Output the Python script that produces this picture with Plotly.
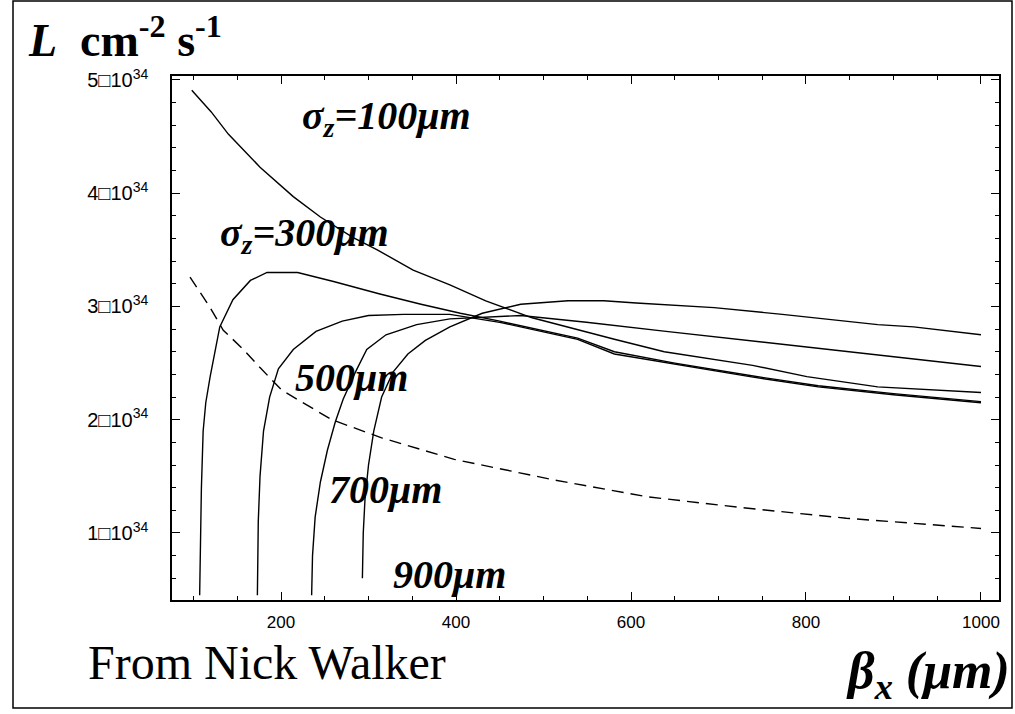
import plotly.graph_objects as go

# ---- data (luminosity in units of 1e34 cm^-2 s^-1, beta in micrometres) ----
t_x = [98, 120, 140, 160, 176, 214, 245, 282, 310, 351, 393, 434, 487, 581, 638, 739, 801, 882, 1000]
t_y = [4.91, 4.72, 4.52, 4.36, 4.23, 3.97, 3.79, 3.61, 3.50, 3.32, 3.19, 3.05, 2.90, 2.71, 2.60, 2.48, 2.38, 2.29, 2.24]

v1_x = [107, 108, 109, 111, 114, 119, 130, 145, 165, 184, 219, 260, 313, 360, 405, 450, 539, 581, 650, 736, 814, 900, 1000]
v1_y = [0.45, 1.0, 1.4, 1.9, 2.15, 2.38, 2.82, 3.06, 3.23, 3.30, 3.30, 3.22, 3.11, 3.02, 2.94, 2.87, 2.72, 2.60, 2.50, 2.39, 2.30, 2.23, 2.16]

v2_x = [173, 174, 176, 180, 187, 197, 214, 240, 270, 300, 340, 393, 450, 539, 581, 650, 736, 814, 900, 1000]
v2_y = [0.45, 1.1, 1.5, 1.9, 2.2, 2.45, 2.62, 2.78, 2.87, 2.92, 2.93, 2.93, 2.86, 2.71, 2.58, 2.49, 2.38, 2.29, 2.22, 2.15]

v3_x = [235, 236, 239, 245, 253, 262, 271, 285, 298, 320, 355, 393, 474, 549, 640, 720, 800, 882, 1000]
v3_y = [0.45, 0.8, 1.14, 1.45, 1.73, 1.98, 2.18, 2.42, 2.62, 2.75, 2.84, 2.89, 2.92, 2.86, 2.78, 2.71, 2.64, 2.57, 2.47]

v4_x = [293, 294, 296, 300, 306, 315, 328, 345, 365, 393, 430, 474, 528, 569, 606, 695, 773, 882, 923, 1000]
v4_y = [0.60, 1.0, 1.3, 1.6, 1.9, 2.2, 2.42, 2.58, 2.70, 2.82, 2.94, 3.02, 3.05, 3.05, 3.03, 2.99, 2.93, 2.84, 2.82, 2.75]

d_x = [96, 119, 134, 157, 176, 201, 258, 315, 398, 511, 618, 731, 846, 1000]
d_y = [3.26, 2.99, 2.79, 2.62, 2.46, 2.26, 2.00, 1.84, 1.65, 1.47, 1.32, 1.22, 1.13, 1.04]

y_tickvals = [1, 2, 3, 4, 5]
y_ticktext = ["1\u25a110<sup>34</sup>", "2\u25a110<sup>34</sup>", "3\u25a110<sup>34</sup>",
              "4\u25a110<sup>34</sup>", "5\u25a110<sup>34</sup>"]
x_tickvals = [200, 400, 600, 800, 1000]

labels = ["\u03c3<sub>z</sub>=100\u03bcm", "\u03c3<sub>z</sub>=300\u03bcm", "500\u03bcm", "700\u03bcm", "900\u03bcm"]
label_x = [320, 227, 281, 319, 392]
label_y = [4.66, 3.63, 2.37, 1.38, 0.63]

fig = go.Figure()
line = dict(color="black", width=1.4)
for xs, ys in [(t_x, t_y), (v1_x, v1_y), (v2_x, v2_y), (v3_x, v3_y), (v4_x, v4_y)]:
    fig.add_trace(go.Scatter(x=xs, y=ys, mode="lines", line=line, showlegend=False, hoverinfo="skip"))
fig.add_trace(go.Scatter(x=d_x, y=d_y, mode="lines", line=dict(color="black", width=1.4, dash="12px,7px"),
                         showlegend=False, hoverinfo="skip"))

for txt, lx, ly in zip(labels, label_x, label_y):
    fig.add_annotation(x=lx, y=ly, xref="x", yref="y", text="<b><i>" + txt + "</i></b>", showarrow=False,
                       font=dict(family="Liberation Serif", size=40, color="black"))

# axis titles & credit
fig.add_annotation(x=(26 - 172) / 827, y=(600 - 6) / 524, xref="paper", yref="paper", xanchor="left",
                   yanchor="top", showarrow=False,
                   text="<b><i>L</i>  cm<sup>-2</sup> s<sup>-1</sup></b>",
                   font=dict(family="Liberation Serif", size=46, color="black"))
fig.add_annotation(x=(1012 - 172) / 827, y=(600 - 674) / 524, xref="paper", yref="paper", xanchor="right",
                   yanchor="middle", showarrow=False,
                   text="<b><i>\u03b2<sub>x</sub> (\u03bcm)</i></b>",
                   font=dict(family="Liberation Serif", size=52, color="black"))
fig.add_annotation(x=(86 - 172) / 827, y=(600 - 662) / 524, xref="paper", yref="paper", xanchor="left",
                   yanchor="middle", showarrow=False, text="From Nick Walker",
                   font=dict(family="Liberation Serif", size=48, color="black"))

# outer frame
fig.add_shape(type="rect", xref="paper", yref="paper",
              x0=(13 - 172) / 827, x1=(1012 - 172) / 827, y0=(600 - 708) / 524, y1=(600 - 1) / 524,
              line=dict(color="black", width=1.5))

axis_common = dict(showline=True, linecolor="black", linewidth=1.5, mirror="ticks", ticks="inside",
                   ticklen=8, tickwidth=1.3, tickcolor="black", showgrid=False, zeroline=False)
fig.update_xaxes(range=[75.4, 1020.6], tickvals=x_tickvals, ticklabelstandoff=6,
                 tickfont=dict(family="Liberation Sans", size=17, color="black"),
                 minor=dict(ticks="inside", ticklen=4, dtick=50, tick0=0, tickcolor="black", tickwidth=1.2),
                 **axis_common)
fig.update_yaxes(range=[0.408, 5.035], tickvals=y_tickvals, ticktext=y_ticktext, ticklabelstandoff=18,
                 tickfont=dict(family="Liberation Sans", size=20, color="black"),
                 minor=dict(ticks="inside", ticklen=4, dtick=0.2, tick0=0, tickcolor="black", tickwidth=1.2),
                 **axis_common)

fig.update_layout(width=1015, height=714, margin=dict(l=172, r=16, t=76, b=114),
                  paper_bgcolor="white", plot_bgcolor="white",
                  font=dict(family="Liberation Sans", size=16, color="black"))
fig.write_html("out.html")
